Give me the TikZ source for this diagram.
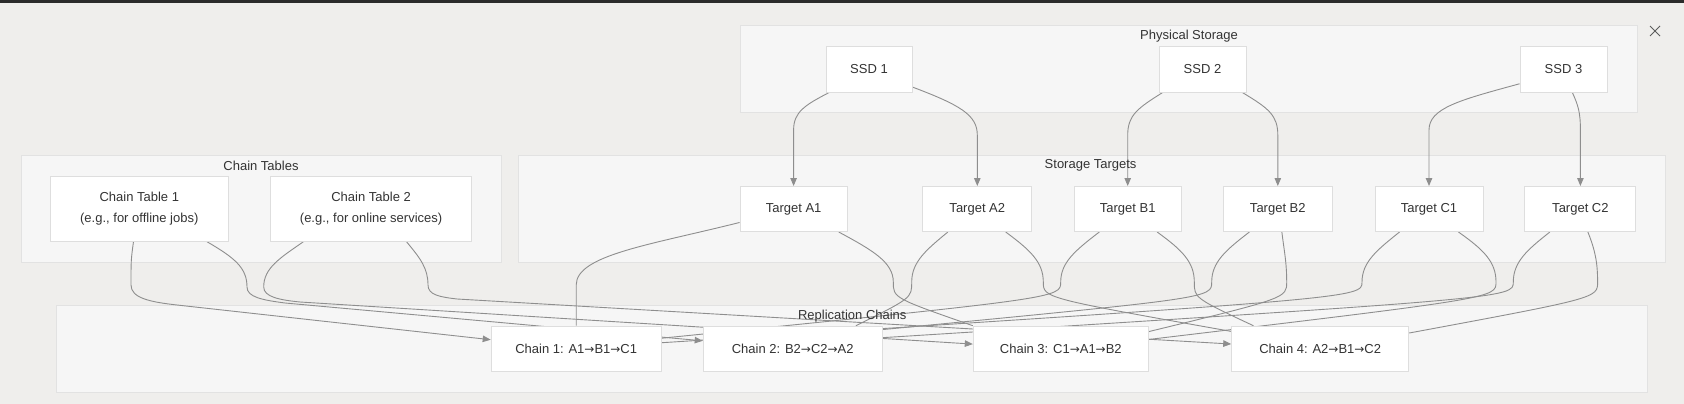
\documentclass[tikz,border=0pt]{standalone}
\usepackage{fontspec}
\setmainfont{Liberation Sans}
\newfontfamily\arrowfont{DejaVu Sans}
\newcommand{\thenarrow}{{\arrowfont\fontsize{12}{13}\selectfont →}}
\usetikzlibrary{arrows.meta}
\definecolor{canvas}{HTML}{EFEEEC}
\definecolor{topbar}{HTML}{2B2B2B}
\definecolor{panel}{HTML}{F6F6F6}
\definecolor{panelline}{HTML}{E2E2E2}
\definecolor{boxline}{HTML}{DEDEDE}
\definecolor{linkgray}{HTML}{8E8E8E}
\definecolor{txt}{HTML}{333333}
\pgfdeclarelayer{back}
\pgfdeclarelayer{links}
\pgfsetlayers{back,links,main}

\begin{document}
\begin{tikzpicture}[x=1pt,y=-1pt,
  box/.style={draw=boxline, fill=white, line width=1pt, text=txt, minimum height=45pt,
    inner sep=0pt, align=center, font=\fontsize{13}{20.4}\selectfont},
  cluster/.style={draw=panelline, fill=panel, line width=1pt},
  title/.style={text=txt, inner sep=0pt, font=\fontsize{13}{16}\selectfont},
  link/.style={draw=linkgray, line width=0.9pt},
  arr/.style={link, -{Triangle[length=8pt,width=6.5pt]}}]

  % Frame and the three groups
  \begin{pgfonlayer}{back}
    \fill[canvas] (0,0) rectangle (1684,404);
    \fill[topbar] (0,0) rectangle (1684,3.5);
    \draw[cluster] (740,25.5) rectangle (1637,112.2);
    \draw[cluster] (518,155) rectangle (1665,262.7);
    \draw[cluster] (21.5,155) rectangle (501,262.7);
    \draw[cluster] (56.4,305) rectangle (1647.6,392.5);
    \draw[txt!80, line width=1pt] (1650,26) -- (1660,36) (1660,26) -- (1650,36);
  \end{pgfonlayer}

  \node[title] (lphys) at (1189,36.5) {Physical Storage};
  \node[title] (ltarg) at (1090.6,165.7) {Storage Targets};
  \node[title] (ltab) at (261,165.7) {Chain Tables};
  \node[title] (lrep) at (852.3,315.7) {Replication Chains};

  % Physical storage
  \node[box, minimum width=86pt] (ssd1) at (869,69.5) {SSD 1};
  \node[box, minimum width=87pt] (ssd2) at (1202.5,69.5) {SSD 2};
  \node[box, minimum width=87pt] (ssd3) at (1563.5,69.5) {SSD 3};

  % Storage targets
  \node[box, minimum width=107pt] (ta1) at (793.6,209) {Target A1};
  \node[box, minimum width=109pt] (ta2) at (977.3,209) {Target A2};
  \node[box, minimum width=107pt] (tb1) at (1127.7,209) {Target B1};
  \node[box, minimum width=109pt] (tb2) at (1277.8,209) {Target B2};
  \node[box, minimum width=108pt] (tc1) at (1429,209) {Target C1};
  \node[box, minimum width=111pt] (tc2) at (1580.4,209) {Target C2};

  % Chain tables
  \node[box, minimum width=178pt, minimum height=65pt] (ct1) at (139.3,208.7)
    {Chain Table 1\\(e.g., for offline jobs)};
  \node[box, minimum width=201pt, minimum height=65pt] (ct2) at (371.1,208.7)
    {Chain Table 2\\(e.g., for online services)};

  % Replication chains
  \node[box, minimum width=170pt] (ch1) at (576.2,348.7) {Chain 1: A1\thenarrow B1\thenarrow C1};
  \node[box, minimum width=179pt] (ch2) at (792.7,348.7) {Chain 2: B2\thenarrow C2\thenarrow A2};
  \node[box, minimum width=175pt] (ch3) at (1060.8,348.7) {Chain 3: C1\thenarrow A1\thenarrow B2};
  \node[box, minimum width=177pt] (ch4) at (1320.2,348.7) {Chain 4: A2\thenarrow B1\thenarrow C2};

  \begin{pgfonlayer}{links}
    % SSDs hold the targets
    \draw[arr] (ssd1.210) .. controls (805,105) and (793.6,112) .. (793.6,130) -- (ta1.north);
    \draw[arr] (ssd1.-22) .. controls (960,105) and (977.3,115) .. (977.3,135) -- (ta2.north);
    \draw[arr] (ssd2.210) .. controls (1138,108) and (1127.7,115) .. (1127.7,135) -- (tb1.north);
    \draw[arr] (ssd2.330) .. controls (1268,108) and (1277.8,115) .. (1277.8,135) -- (tb2.north);
    \draw[arr] (ssd3.198) .. controls (1460,100) and (1429,108) .. (1429,130) -- (tc1.north);
    \draw[arr] (ssd3.-69) .. controls (1578,105) and (1580.4,112) .. (1580.4,130) -- (tc2.north);

    % tables list the chains
    \draw[arr] (ct1.260) .. controls (131,260) .. (131,285) .. controls (131,298) and (150,302) .. (177,305) -- (ch1.174);
    \draw[arr] (ct1.-26) .. controls (235,258) and (247,268) .. (247,287) .. controls (247,297) and (262,300) .. (285,303) -- (ch2.175);
    \draw[arr] (ct2.206) .. controls (280,258) and (263.7,268) .. (263.7,287) .. controls (263.7,297) and (280,300) .. (300,302) -- (ch3.177);
    \draw[arr] (ct2.-43) .. controls (420,258) and (428,268) .. (428,285) .. controls (428,295) and (440,297) .. (457,299) -- (ch4.177);

    % targets joined into chains
    \draw[link] (ta1.194) .. controls (650,245) and (576.2,255) .. (576.2,285) -- (ch1.north);
    \draw[link] (ta1.-27) .. controls (872,250) and (893.3,262) .. (893.3,282) .. controls (893.3,298) .. (ch3.north west);
    \draw[link] (ta2.218) .. controls (926,250) and (911.7,262) .. (911.7,282) .. controls (911.7,298) .. (ch2.20);
    \draw[link] (ta2.-39) .. controls (1030,250) and (1043.3,262) .. (1043.3,282) .. controls (1043.3,298) .. (ch4.169);
    \draw[link] (tb1.219) .. controls (1076,250) and (1060.7,262) .. (1060.7,282) .. controls (1060.7,298) .. (ch1.7);
    \draw[link] (tb1.-38) .. controls (1182,250) and (1194.3,262) .. (1194.3,282) .. controls (1194.3,298) .. (ch4.161);
    \draw[link] (tb2.219) .. controls (1226,250) and (1211.7,262) .. (1211.7,282) .. controls (1211.7,298) .. (ch2.12);
    \draw[link] (tb2.-80) .. controls (1284,250) and (1286.7,262) .. (1286.7,282) .. controls (1286.7,298) .. (ch3.11);
    \draw[link] (tc1.218) .. controls (1377,250) and (1362,262) .. (1362,282) .. controls (1362,298) .. (ch1.4);
    \draw[link] (tc1.-38) .. controls (1484,250) and (1496,262) .. (1496,282) .. controls (1496,298) .. (ch3.6);
    \draw[link] (tc2.217) .. controls (1527,250) and (1513.3,262) .. (1513.3,282) .. controls (1513.3,298) .. (ch2.7);
    \draw[link] (tc2.-72) .. controls (1595,250) and (1597.6,262) .. (1597.6,282) .. controls (1597.6,298) .. (ch4.10);
  \end{pgfonlayer}
\end{tikzpicture}
\end{document}
